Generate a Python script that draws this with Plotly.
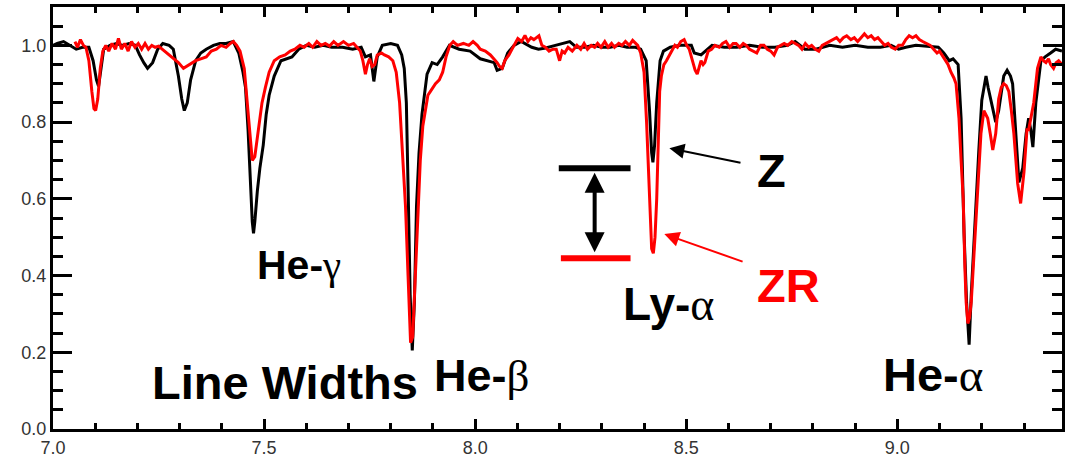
import plotly.graph_objects as go

# Z spectrum (black)
z_wl = [7.000, 7.010, 7.025, 7.040, 7.055, 7.070, 7.085, 7.095, 7.103, 7.108, 7.113, 7.120,
        7.135, 7.150, 7.165, 7.180, 7.195, 7.205, 7.215, 7.224, 7.236, 7.248, 7.260, 7.275,
        7.285, 7.297, 7.305, 7.311, 7.318, 7.326, 7.338, 7.350, 7.363, 7.380, 7.395, 7.410,
        7.427, 7.440, 7.450, 7.456, 7.462, 7.468, 7.472, 7.475, 7.478, 7.484, 7.490, 7.498,
        7.505, 7.512, 7.524, 7.540, 7.566, 7.582, 7.600, 7.620, 7.640, 7.660, 7.686, 7.710,
        7.730, 7.740, 7.752, 7.760, 7.768, 7.780, 7.800, 7.816, 7.826, 7.832, 7.837, 7.842,
        7.846, 7.851, 7.856, 7.861, 7.867, 7.874, 7.886, 7.898, 7.910, 7.923, 7.939, 7.962,
        7.988, 8.012, 8.028, 8.045, 8.052, 8.064, 8.077, 8.092, 8.109, 8.125, 8.134, 8.150,
        8.167, 8.190, 8.210, 8.224, 8.240, 8.260, 8.280, 8.300, 8.320, 8.340, 8.360, 8.380,
        8.392, 8.405, 8.413, 8.418, 8.421, 8.425, 8.430, 8.438, 8.446, 8.462, 8.486, 8.512,
        8.519, 8.535, 8.561, 8.590, 8.620, 8.650, 8.680, 8.710, 8.740, 8.758, 8.781, 8.807,
        8.840, 8.870, 8.900, 8.930, 8.960, 8.985, 9.003, 9.020, 9.044, 9.065, 9.085, 9.097,
        9.110, 9.123, 9.132, 9.144, 9.151, 9.158, 9.164, 9.170, 9.175, 9.182, 9.188, 9.193,
        9.200, 9.210, 9.215, 9.225, 9.233, 9.240, 9.252, 9.260, 9.268, 9.273, 9.280, 9.288,
        9.297, 9.305, 9.311, 9.316, 9.321, 9.328, 9.340, 9.350, 9.363, 9.375, 9.390]
z_flux = [1.000, 1.005, 1.010, 1.000, 0.990, 0.995, 0.995, 0.960, 0.910, 0.893, 0.930, 0.990,
          1.000, 1.005, 1.000, 1.005, 1.000, 0.975, 0.955, 0.940, 0.955, 0.990, 1.005, 1.000,
          0.990, 0.920, 0.860, 0.830, 0.850, 0.910, 0.960, 0.980, 0.990, 1.000, 1.005, 1.005,
          1.010, 0.980, 0.930, 0.890, 0.780, 0.620, 0.540, 0.510, 0.540, 0.620, 0.680, 0.740,
          0.820, 0.870, 0.920, 0.960, 0.970, 0.990, 1.000, 0.995, 1.000, 0.995, 0.995, 0.990,
          0.995, 0.970, 0.975, 0.906, 0.970, 1.000, 1.005, 1.000, 0.975, 0.940, 0.850, 0.580,
          0.350, 0.205, 0.330, 0.580, 0.720, 0.820, 0.925, 0.955, 0.950, 0.970, 1.000, 0.990,
          0.985, 0.965, 0.960, 0.955, 0.935, 0.940, 0.980, 1.000, 1.010, 1.000, 0.995, 0.990,
          0.993, 1.000, 1.005, 1.010, 0.995, 0.995, 1.000, 0.995, 0.995, 1.000, 0.995, 0.995,
          0.990, 0.960, 0.830, 0.720, 0.695, 0.740, 0.850, 0.960, 0.985, 0.995, 1.000, 1.000,
          0.980, 0.975, 1.000, 0.995, 0.995, 1.000, 0.995, 0.995, 1.000, 1.010, 0.990, 0.990,
          1.000, 0.995, 1.000, 0.995, 0.995, 1.000, 0.990, 0.995, 1.000, 0.998, 0.995, 0.995,
          0.980, 0.960, 0.965, 0.950, 0.810, 0.510, 0.330, 0.220, 0.350, 0.510, 0.640, 0.727,
          0.857, 0.920, 0.890, 0.840, 0.800, 0.830, 0.920, 0.935, 0.920, 0.900, 0.780, 0.643,
          0.680, 0.770, 0.810, 0.780, 0.735, 0.850, 0.960, 0.970, 0.980, 0.990, 0.985]

# ZR spectrum (red)
zr_wl = [7.052, 7.058, 7.065, 7.072, 7.078, 7.085, 7.092, 7.097, 7.101, 7.106, 7.112, 7.118,
         7.125, 7.132, 7.140, 7.148, 7.155, 7.162, 7.170, 7.178, 7.186, 7.194, 7.202, 7.210,
         7.218, 7.226, 7.234, 7.242, 7.250, 7.264, 7.280, 7.297, 7.309, 7.322, 7.338, 7.350,
         7.363, 7.375, 7.387, 7.398, 7.410, 7.420, 7.427, 7.435, 7.443, 7.453, 7.460, 7.466,
         7.472, 7.478, 7.484, 7.490, 7.495, 7.503, 7.512, 7.524, 7.537, 7.550, 7.562, 7.573,
         7.585, 7.595, 7.606, 7.615, 7.625, 7.635, 7.645, 7.655, 7.665, 7.675, 7.688, 7.700,
         7.712, 7.720, 7.728, 7.734, 7.740, 7.745, 7.750, 7.756, 7.762, 7.768, 7.778, 7.785,
         7.795, 7.805, 7.813, 7.821, 7.828, 7.835, 7.841, 7.847, 7.852, 7.858, 7.864, 7.870,
         7.876, 7.882, 7.888, 7.894, 7.906, 7.915, 7.923, 7.931, 7.940, 7.948, 7.958, 7.972,
         7.985, 7.995, 8.005, 8.012, 8.024, 8.036, 8.045, 8.052, 8.058, 8.064, 8.070, 8.080,
         8.092, 8.101, 8.110, 8.118, 8.125, 8.132, 8.139, 8.151, 8.158, 8.166, 8.175, 8.184,
         8.192, 8.200, 8.206, 8.212, 8.220, 8.230, 8.241, 8.250, 8.258, 8.266, 8.275, 8.283,
         8.290, 8.298, 8.307, 8.315, 8.323, 8.330, 8.340, 8.348, 8.356, 8.365, 8.373, 8.385,
         8.392, 8.400, 8.406, 8.410, 8.414, 8.418, 8.422, 8.426, 8.430, 8.433, 8.437, 8.441,
         8.447, 8.453, 8.460, 8.467, 8.473, 8.479, 8.487, 8.495, 8.501, 8.507, 8.512, 8.516,
         8.521, 8.526, 8.531, 8.535, 8.540, 8.544, 8.552, 8.560, 8.568, 8.578, 8.586, 8.594,
         8.603, 8.611, 8.618, 8.627, 8.635, 8.642, 8.650, 8.660, 8.667, 8.676, 8.684, 8.692,
         8.700, 8.708, 8.716, 8.724, 8.732, 8.740, 8.750, 8.758, 8.766, 8.774, 8.782, 8.790,
         8.797, 8.806, 8.814, 8.822, 8.830, 8.840, 8.848, 8.856, 8.864, 8.872, 8.880, 8.890,
         8.898, 8.906, 8.914, 8.922, 8.930, 8.938, 8.946, 8.954, 8.962, 8.970, 8.978, 8.986,
         8.995, 9.003, 9.012, 9.020, 9.028, 9.036, 9.044, 9.052, 9.060, 9.070, 9.078, 9.086,
         9.094, 9.100, 9.106, 9.113, 9.120, 9.127, 9.134, 9.139, 9.146, 9.151, 9.156, 9.160,
         9.163, 9.167, 9.171, 9.175, 9.182, 9.190, 9.198, 9.205, 9.214, 9.220, 9.226, 9.233,
         9.240, 9.246, 9.252, 9.258, 9.264, 9.270, 9.276, 9.285, 9.292, 9.300, 9.307, 9.311,
         9.318, 9.323, 9.332, 9.340, 9.346, 9.352, 9.358, 9.363, 9.370, 9.376, 9.382, 9.390]
zr_flux = [1.010, 0.995, 1.015, 1.000, 0.995, 0.960, 0.880, 0.835, 0.830, 0.860, 0.940, 0.985,
           1.000, 0.985, 1.005, 0.990, 1.018, 0.990, 1.005, 0.985, 1.010, 0.995, 1.005, 0.990,
           1.005, 0.990, 1.000, 0.995, 0.998, 0.985, 0.970, 0.955, 0.940, 0.950, 0.960, 0.965,
           0.970, 0.985, 0.990, 1.000, 0.995, 1.005, 1.010, 1.000, 0.985, 0.940, 0.850, 0.760,
           0.700, 0.710, 0.760, 0.810, 0.850, 0.890, 0.930, 0.960, 0.970, 0.975, 0.985, 0.990,
           1.000, 0.995, 1.005, 0.995, 1.010, 1.000, 1.005, 0.998, 1.010, 1.000, 1.010, 1.000,
           1.005, 0.995, 0.985, 0.960, 0.925, 0.950, 0.965, 0.945, 0.950, 0.975, 0.980, 0.975,
           0.970, 0.960, 0.930, 0.850, 0.720, 0.580, 0.400, 0.225, 0.240, 0.400, 0.580, 0.700,
           0.790, 0.830, 0.870, 0.880, 0.900, 0.910, 0.930, 0.970, 1.000, 1.010, 1.000, 1.005,
           1.000, 1.010, 1.000, 0.990, 0.985, 0.975, 0.965, 0.955, 0.945, 0.940, 0.960, 0.975,
           1.000, 1.018, 1.010, 1.026, 1.010, 1.020, 1.015, 1.025, 1.000, 0.995, 0.985, 0.990,
           0.990, 0.960, 0.985, 0.980, 0.995, 0.985, 1.000, 0.990, 1.005, 0.990, 1.000, 0.995,
           1.005, 0.995, 1.010, 0.995, 1.005, 0.995, 1.005, 1.000, 1.010, 1.000, 1.013, 1.000,
           0.980, 0.930, 0.800, 0.680, 0.560, 0.470, 0.458, 0.500, 0.600, 0.750, 0.880, 0.920,
           0.950, 0.960, 0.975, 0.990, 1.000, 0.995, 1.010, 1.015, 1.000, 0.990, 0.970, 0.950,
           0.935, 0.925, 0.945, 0.960, 0.950, 0.955, 0.985, 0.990, 1.000, 0.995, 1.005, 1.010,
           0.995, 1.005, 1.005, 0.995, 1.005, 1.000, 0.990, 0.985, 0.980, 1.000, 1.000, 0.990,
           0.985, 0.975, 0.995, 1.000, 1.005, 1.000, 1.010, 1.005, 1.000, 0.990, 1.005, 0.995,
           1.000, 0.990, 0.985, 1.000, 1.005, 1.010, 1.015, 1.020, 1.010, 1.020, 1.025, 1.015,
           1.020, 1.010, 1.020, 1.030, 1.020, 1.025, 1.015, 1.020, 1.010, 1.000, 1.005, 0.995,
           0.990, 1.000, 1.000, 1.015, 1.025, 1.020, 1.025, 1.015, 1.010, 1.005, 1.000, 0.990,
           0.980, 0.985, 0.975, 0.960, 0.950, 0.930, 0.915, 0.900, 0.810, 0.700, 0.600, 0.420,
           0.330, 0.275, 0.290, 0.330, 0.470, 0.620, 0.770, 0.830, 0.810, 0.770, 0.727, 0.770,
           0.860, 0.890, 0.900, 0.895, 0.880, 0.830, 0.770, 0.640, 0.588, 0.670, 0.780, 0.780,
           0.820, 0.850, 0.940, 0.970, 0.960, 0.955, 0.965, 0.950, 0.940, 0.955, 0.960, 0.950]

# Line labels: (text, x, y, size)
labels = [
    ("<b>He-</b><span style='font-family:Liberation Serif'>γ</span>", 7.583, 0.427, 41),
    ("<b>Line Widths</b>", 7.55, 0.122, 47),
    ("<b>He-</b><span style='font-family:Liberation Serif'>β</span>", 8.016, 0.140, 45),
    ("<b>Ly-</b><span style='font-family:Liberation Serif'>α</span>", 8.459, 0.327, 46),
    ("<b>He-</b><span style='font-family:Liberation Serif'>α</span>", 9.085, 0.142, 47),
]

# Ly-alpha depth markers
z_depth = 0.680
zr_depth = 0.445
marker_x = [8.198, 8.368]

fig = go.Figure()
fig.add_trace(go.Scatter(x=z_wl, y=z_flux, mode="lines", name="Z",
                         line=dict(color="black", width=3)))
fig.add_trace(go.Scatter(x=zr_wl, y=zr_flux, mode="lines", name="ZR",
                         line=dict(color="#ff0000", width=3)))

for txt, x, y, size in labels:
    fig.add_annotation(x=x, y=y, text=txt, showarrow=False,
                       font=dict(family="Liberation Sans", size=size, color="black"),
                       xanchor="center", yanchor="middle")

# Z / ZR labels with arrows
fig.add_annotation(x=8.703, y=0.674, text="<b>Z</b>", showarrow=False,
                   font=dict(family="Liberation Sans", size=47, color="black"))
fig.add_annotation(x=8.743, y=0.374, text="<b>ZR</b>", showarrow=False,
                   font=dict(family="Liberation Sans", size=47, color="#ff0000"))
fig.add_annotation(x=8.460, y=0.732, ax=8.632, ay=0.693, axref="x", ayref="y",
                   text="", showarrow=True, arrowhead=2, arrowsize=1.5,
                   arrowwidth=2, arrowcolor="black")
fig.add_annotation(x=8.448, y=0.508, ax=8.637, ay=0.435, axref="x", ayref="y",
                   text="", showarrow=True, arrowhead=2, arrowsize=1.5,
                   arrowwidth=2, arrowcolor="#ff0000")

# depth bars and double arrow
fig.add_shape(type="line", x0=marker_x[0], x1=marker_x[1], y0=z_depth, y1=z_depth,
              line=dict(color="black", width=6))
fig.add_shape(type="line", x0=marker_x[0] + 0.005, x1=marker_x[1], y0=zr_depth, y1=zr_depth,
              line=dict(color="#ff0000", width=6))
mid = (marker_x[0] + marker_x[1]) / 2
fig.add_annotation(x=mid, y=z_depth - 0.012, ax=mid, ay=zr_depth + 0.012,
                   axref="x", ayref="y", text="", showarrow=True,
                   arrowhead=2, arrowside="end+start", arrowsize=1,
                   arrowwidth=4, arrowcolor="black")

tickfont = dict(family="Liberation Sans", size=18, color="#333333")
fig.update_xaxes(range=[7.0, 9.39], dtick=0.5, tick0=7.0, tickformat=".1f",
                 showline=True, linewidth=3, linecolor="black", mirror="ticks",
                 ticks="inside", ticklen=10, tickwidth=2.5, tickcolor="black",
                 minor=dict(dtick=0.1, ticks="inside", ticklen=6, tickwidth=2.5,
                            tickcolor="black", showgrid=False),
                 showgrid=False, zeroline=False, tickfont=tickfont)
fig.update_yaxes(range=[0, 1.1], dtick=0.2, tick0=0, tickformat=".1f",
                 showline=True, linewidth=3, linecolor="black", mirror="ticks",
                 ticks="inside", ticklen=19, tickwidth=2.5, tickcolor="black",
                 minor=dict(dtick=0.05, ticks="inside", ticklen=10, tickwidth=2.5,
                            tickcolor="black", showgrid=False),
                 showgrid=False, zeroline=False, tickfont=tickfont)

fig.update_layout(width=1065, height=461, showlegend=False,
                  margin=dict(l=53, r=0, t=7, b=32),
                  plot_bgcolor="white", paper_bgcolor="white")

# page body has a default 8px margin; drop it so the figure sits at the corner
fig.write_html("out.html", config={"displayModeBar": False},
               post_script="document.body.style.margin='0px';")
